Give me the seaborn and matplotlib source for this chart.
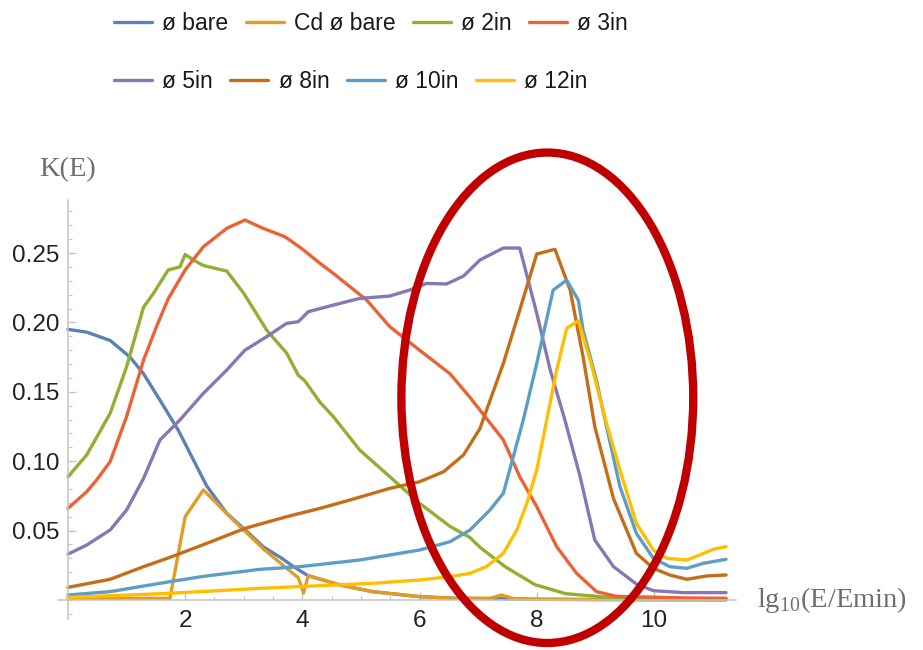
import numpy as np
import pandas as pd
import matplotlib
matplotlib.use("Agg")
import matplotlib.pyplot as plt
import seaborn as sns
from matplotlib.patches import Ellipse
from matplotlib.lines import Line2D
from matplotlib.ticker import MultipleLocator

# ---------------- data ----------------
labels = ["ø bare", "Cd ø bare", "ø 2in", "ø 3in", "ø 5in", "ø 8in", "ø 10in", "ø 12in"]
colors = ["#5E81B5", "#E19C24", "#8FB032", "#EB6235", "#8778B3", "#C56E1A", "#5D9EC7", "#FFBF00"]

bare_x = [0, 0.32, 0.72, 1.06, 1.29, 1.57, 1.88, 2.14, 2.37, 2.71, 3.02, 3.33, 3.65, 3.85, 4.0,
          4.1, 4.64, 5.2, 6.0, 6.6, 7.2, 8.0, 9.0, 10.0, 11.23]
bare_y = [0.195, 0.193, 0.187, 0.175, 0.163, 0.144, 0.1225, 0.101, 0.082, 0.0624, 0.0507, 0.0384,
          0.030, 0.024, 0.020, 0.0175, 0.0108, 0.006, 0.0024, 0.0012, 0.0010, 0.0005, 0.0003, 0.0002, 0.0002]

cd_x = [0, 1.0, 1.74, 2.0, 2.31, 2.82, 3.33, 3.67, 3.93, 4.02, 4.1, 4.64, 5.2, 6.0, 6.6, 7.2, 7.4,
        7.6, 8.0, 9.0, 10.0, 11.23]
cd_y = [0.0012, 0.0012, 0.0012, 0.060, 0.0793, 0.0576, 0.037, 0.025, 0.016, 0.005, 0.0175, 0.0108,
        0.006, 0.0024, 0.0012, 0.0012, 0.0036, 0.001, 0.0005, 0.0003, 0.0002, 0.0002]

g2_x = [0, 0.32, 0.72, 1.0, 1.29, 1.46, 1.71, 1.91, 2.0, 2.14, 2.31, 2.71, 3.0, 3.39, 3.73, 3.93,
        4.04, 4.3, 4.53, 4.98, 5.49, 6.0, 6.52, 6.86, 7.03, 7.46, 7.97, 8.5, 9.14, 10.0, 11.23]
g2_y = [0.0888, 0.1045, 0.1345, 0.168, 0.211, 0.221, 0.2378, 0.240, 0.249, 0.245, 0.241, 0.237,
        0.221, 0.1945, 0.178, 0.162, 0.158, 0.1425, 0.132, 0.108, 0.0889, 0.0697, 0.053, 0.045,
        0.038, 0.024, 0.011, 0.0045, 0.0022, 0.0005, 0.0002]

r3_x = [0, 0.32, 0.49, 0.72, 1.0, 1.29, 1.51, 1.71, 2.0, 2.31, 2.71, 3.02, 3.33, 3.7, 3.99, 4.3,
        4.53, 5.1, 5.49, 6.0, 6.52, 6.86, 7.25, 7.43, 7.71, 8.0, 8.34, 8.68, 9.02, 9.36, 10.0,
        10.5, 11.23]
r3_y = [0.066, 0.078, 0.0865, 0.0997, 0.1321, 0.1729, 0.1969, 0.217, 0.2378, 0.2545, 0.2678,
        0.2738, 0.2678, 0.2618, 0.2532, 0.2426, 0.2353, 0.216, 0.197, 0.180, 0.163, 0.146, 0.125,
        0.1153, 0.0888, 0.0672, 0.0384, 0.0192, 0.006, 0.0026, 0.002, 0.0015, 0.0012]

p5_x = [0, 0.32, 0.72, 1.0, 1.29, 1.57, 1.91, 2.31, 2.71, 3.02, 3.39, 3.73, 3.93, 4.1, 4.53, 4.98,
        5.49, 5.83, 6.12, 6.46, 6.75, 7.03, 7.43, 7.71, 8.0, 8.23, 8.48, 8.74, 8.99, 9.31, 9.7,
        9.99, 10.5, 11.23]
p5_y = [0.0330, 0.0396, 0.0504, 0.0648, 0.0876, 0.1153, 0.1297, 0.1489, 0.1657, 0.180, 0.1897,
        0.1993, 0.2005, 0.2077, 0.2125, 0.2173, 0.219, 0.2233, 0.2281, 0.2277, 0.2334, 0.245,
        0.2536, 0.2536, 0.2065, 0.1657, 0.1297, 0.0888, 0.0432, 0.024, 0.0115, 0.0067, 0.0053, 0.0053]

b8_x = [0, 0.72, 1.29, 1.74, 2.37, 3.02, 3.73, 4.3, 4.81, 5.49, 6.0, 6.41, 6.75, 7.03, 7.43, 7.71,
        8.0, 8.31, 8.57, 8.79, 8.99, 9.31, 9.7, 9.99, 10.27, 10.56, 10.9, 11.23]
b8_y = [0.0091, 0.0149, 0.024, 0.0307, 0.0408, 0.0516, 0.060, 0.066, 0.072, 0.0804, 0.0852,
        0.0924, 0.1045, 0.1235, 0.1705, 0.209, 0.2493, 0.2527, 0.2233, 0.1753, 0.125, 0.073,
        0.0336, 0.0228, 0.018, 0.0149, 0.0173, 0.018]

c10_x = [0, 0.72, 1.74, 2.31, 3.28, 3.96, 4.98, 6.0, 6.52, 6.86, 7.2, 7.43, 7.6, 7.77, 8.0, 8.28,
         8.51, 8.71, 8.79, 9.02, 9.19, 9.42, 9.7, 9.99, 10.27, 10.56, 10.84, 11.23]
c10_y = [0.0036, 0.006, 0.0132, 0.017, 0.0221, 0.024, 0.0288, 0.036, 0.042, 0.0504, 0.0648,
         0.0769, 0.1033, 0.1297, 0.1705, 0.2233, 0.2305, 0.216, 0.1945, 0.158, 0.125, 0.0816,
         0.048, 0.030, 0.024, 0.0228, 0.0264, 0.0293]

y12_x = [0, 1.74, 3.28, 5.2, 6.0, 6.52, 6.86, 7.14, 7.43, 7.66, 7.83, 8.0, 8.17, 8.34, 8.51, 8.71,
         8.91, 9.19, 9.42, 9.7, 9.99, 10.22, 10.56, 10.78, 11.01, 11.23]
y12_y = [0.0018, 0.0048, 0.0084, 0.012, 0.0144, 0.0168, 0.0192, 0.024, 0.0336, 0.0504, 0.0697,
         0.0937, 0.1297, 0.1657, 0.1957, 0.2012, 0.173, 0.1273, 0.0937, 0.0552, 0.036, 0.030,
         0.0288, 0.0324, 0.0365, 0.0384]

xs_all = [bare_x, cd_x, g2_x, r3_x, p5_x, b8_x, c10_x, y12_x]
ys_all = [bare_y, cd_y, g2_y, r3_y, p5_y, b8_y, c10_y, y12_y]

x_ticks = [2, 4, 6, 8, 10]
y_ticks = [0.05, 0.10, 0.15, 0.20, 0.25]
y_tick_labels = ["0.05", "0.10", "0.15", "0.20", "0.25"]

df = pd.concat([pd.DataFrame({"x": xs, "y": ys, "series": name})
                for name, xs, ys in zip(labels, xs_all, ys_all)], ignore_index=True)

# ---------------- style ----------------
sns.set_style("white")
plt.rcParams["font.family"] = ["Liberation Sans", "DejaVu Sans"]
plt.rcParams["mathtext.fontset"] = "custom"
plt.rcParams["mathtext.rm"] = "Liberation Serif"

W, H = 923, 650
fig = plt.figure(figsize=(W / 100, H / 100), dpi=100)
ax = fig.add_axes([58 / W, (H - 619.4) / H, (736 - 58) / W, (619.4 - 200.3) / H])

sns.lineplot(data=df, x="x", y="y", hue="series", hue_order=labels,
             palette=dict(zip(labels, colors)), estimator=None, sort=False,
             lw=2.4, legend=False, ax=ax)

ax.set_xlim(-0.17, 11.4)
ax.set_ylim(-0.014, 0.288)

axis_col = "#c4c4c4"
for s in ["top", "right"]:
    ax.spines[s].set_visible(False)
ax.spines["left"].set_position(("data", 0))
ax.spines["bottom"].set_position(("data", 0))
for s in ["left", "bottom"]:
    ax.spines[s].set_color(axis_col)
    ax.spines[s].set_linewidth(1.1)
ax.xaxis.set_ticks_position("bottom")
ax.yaxis.set_ticks_position("left")

ax.set_xticks(x_ticks)
ax.set_xticklabels([str(t) for t in x_ticks])
ax.set_yticks(y_ticks)
ax.set_yticklabels(y_tick_labels)
ax.xaxis.set_minor_locator(MultipleLocator(0.5))
ax.yaxis.set_minor_locator(MultipleLocator(0.01))
ax.tick_params(which="both", direction="in", color=axis_col, labelcolor="#222222",
               labelsize=17.5)
ax.tick_params(which="major", length=6, width=1.0)
ax.tick_params(which="minor", length=3.2, width=0.8)
ax.tick_params(axis="y", which="major", pad=6)
ax.tick_params(axis="x", which="major", pad=7)
ax.set_xlabel("")
ax.set_ylabel("")

ax.annotate("K(E)", xy=(0, 1), xycoords=("data", "axes fraction"),
            xytext=(0, 22), textcoords="offset points", ha="center", va="center",
            fontsize=20.5, color="#6e6e6e", family=["Liberation Serif", "DejaVu Serif"],
            annotation_clip=False)
ax.annotate(r"lg$_\mathregular{10}$(E/Emin)", xy=(1, 0), xycoords=("axes fraction", "data"),
            xytext=(15, 0), textcoords="offset points", ha="left", va="center",
            fontsize=20.5, color="#6e6e6e", family=["Liberation Serif", "DejaVu Serif"],
            annotation_clip=False)

# red highlight ellipse
ell = Ellipse((8.18, 0.1457), width=4.98, height=0.3534, fill=False,
              edgecolor="#C00000", lw=6, clip_on=False, zorder=10)
ax.add_patch(ell)

# legends (two rows, flow layout)
handles = [Line2D([], [], color=c, lw=2.4) for c in colors]
common = dict(frameon=False, borderpad=0, borderaxespad=0, handlelength=1.66,
              handletextpad=0.45, columnspacing=0.75, fontsize=16.5, labelcolor="#1a1a1a")
fig.legend(handles[:4], labels[:4], loc="center left",
           bbox_to_anchor=(114 / W, 1 - 23.5 / H), ncol=4, **common)
fig.legend(handles[4:], labels[4:], loc="center left",
           bbox_to_anchor=(114 / W, 1 - 81.5 / H), ncol=4, **common)

fig.savefig("out.png", dpi=100)
